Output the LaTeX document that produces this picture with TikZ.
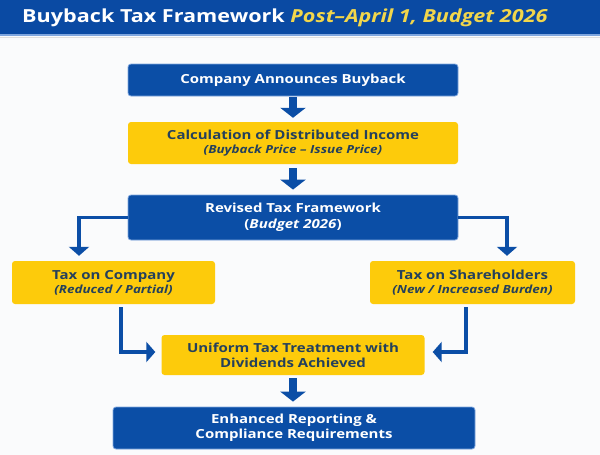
\documentclass[tikz,border=0pt]{standalone}
\usepackage{fontspec}
\setmainfont{Open Sans}[FakeStretch=1.2]
\usetikzlibrary{arrows.meta,calc}
\definecolor{bblue}{HTML}{0B4EA6}
\definecolor{tblue}{HTML}{0A4AA3}
\definecolor{bedge}{HTML}{7FA6DE}
\definecolor{byel}{HTML}{FDCB0B}
\definecolor{dtext}{HTML}{24405C}
\definecolor{tyel}{HTML}{F2D64B}
\definecolor{bg}{HTML}{FAFBFC}
\newcommand{\subtxt}{\bfseries\itshape\fontsize{11.2}{13}\selectfont}
\tikzset{
  bluebox/.style={rectangle, rounded corners=3pt, fill=bblue, draw=bedge, line width=0.8pt,
    text=white, font=\bfseries\fontsize{12.5}{15}\selectfont, align=center, inner sep=0pt},
  yelbox/.style={rectangle, rounded corners=3pt, fill=byel, draw=none,
    text=dtext, font=\bfseries\fontsize{12.5}{15}\selectfont, align=center, inner sep=0pt},
  bigarrow/.style={draw=bblue, line width=8.5pt, -{Triangle[width=25pt,length=10pt]}},
  elbow/.style={draw=bblue, line width=3.5pt, -{Triangle[width=20pt,length=9pt]}}
}
\begin{document}
\begin{tikzpicture}[x=1pt,y=-1pt]
\useasboundingbox (0,0) rectangle (600,455);
\fill[bg] (0,0) rectangle (600,455);
% title bar
\fill[tblue] (0,0) rectangle (600,34);
\draw[bedge, line width=1.2pt] (0,35) -- (600,35);
\draw[black!12, line width=0.6pt] (0,37.5) -- (600,37.5);
\node[anchor=west, inner sep=0pt, font=\bfseries\fontsize{18}{20}\selectfont, text=white] (title) at (22,18)
  {Buyback Tax Framework {\color{tyel}\itshape Post–April 1, Budget 2026}};
% boxes
\node[bluebox, minimum width=330pt, minimum height=32pt] (b1) at (293,80) {Company Announces Buyback};
\node[yelbox, minimum width=330pt, minimum height=42pt] (b2) at (293,143)
  {Calculation of Distributed Income\\[-1pt]{\subtxt (Buyback Price – Issue Price)}};
\node[bluebox, minimum width=330pt, minimum height=45pt] (b3) at (293,217.5)
  {Revised Tax Framework\\[1pt](\textit{Budget 2026})};
\node[yelbox, minimum width=203pt, minimum height=43pt] (tc) at (113.5,282.5)
  {Tax on Company\\[-1pt]{\subtxt (Reduced / Partial)}};
\node[yelbox, minimum width=205pt, minimum height=43pt] (ts) at (472.5,282.5)
  {Tax on Shareholders\\[-1pt]{\subtxt (New / Increased Burden)}};
\node[yelbox, minimum width=263pt, minimum height=40pt] (uni) at (293,355)
  {Uniform Tax Treatment with\\Dividends Achieved};
\node[bluebox, minimum width=362pt, minimum height=42pt] (enh) at (294,428)
  {Enhanced Reporting \&\\Compliance Requirements};
% connectors
\draw[bigarrow, shorten <=1pt, shorten >=4pt] (b1.south) -- (b2.north);
\draw[bigarrow, shorten <=4pt, shorten >=5pt] (b2.south) -- (b3.north);
\draw[bigarrow, shorten <=3pt, shorten >=5pt] (uni.south) -- (uni.south |- enh.north);
\draw[elbow, shorten >=5pt] (b3.west) -| ([xshift=-34.5pt]tc.north);
\draw[elbow, shorten >=5pt] (b3.east) -| ([xshift=34.5pt]ts.north);
\draw[elbow, shorten <=3pt, shorten >=6pt] ([xshift=7.5pt]tc.south) |- ([yshift=3pt]uni.west);
\draw[elbow, shorten <=3pt, shorten >=8pt] ([xshift=-6.5pt]ts.south) |- ([yshift=3pt]uni.east);
\end{tikzpicture}
\end{document}
